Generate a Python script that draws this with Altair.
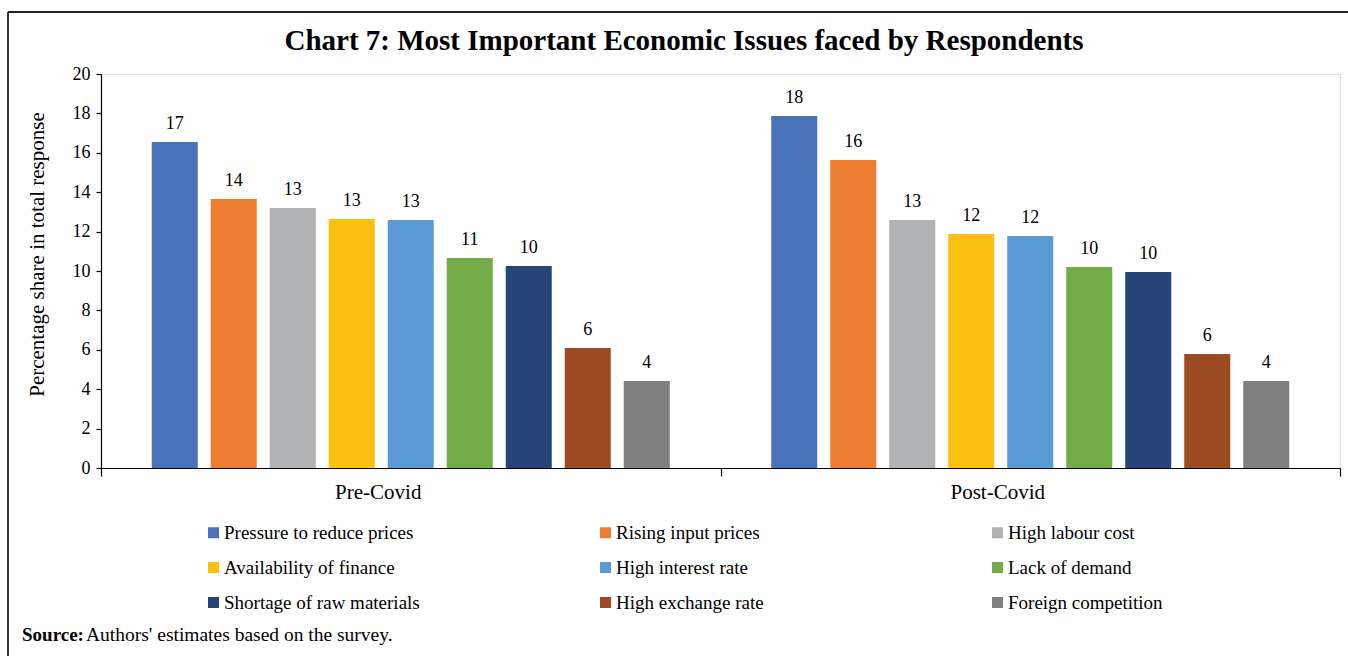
import altair as alt
import pandas as pd

groups = ["Pre-Covid", "Post-Covid"]
issues = [
    "Pressure to reduce prices",
    "Rising input prices",
    "High labour cost",
    "Availability of finance",
    "High interest rate",
    "Lack of demand",
    "Shortage of raw materials",
    "High exchange rate",
    "Foreign competition",
]
pre_covid = [16.55, 13.65, 13.2, 12.64, 12.59, 10.66, 10.25, 6.09, 4.42]
post_covid = [17.87, 15.63, 12.59, 11.88, 11.78, 10.2, 9.95, 5.79, 4.42]
colors = ["#4A72B8", "#ED7D31", "#B1B2B4", "#FCC010", "#5B9BD5",
          "#72AD47", "#264478", "#9C4A22", "#7F7F7F"]
y_ticks = list(range(0, 21, 2))

title_text = "Chart 7: Most Important Economic Issues faced by Respondents"
source_bold = "Source:"
source_text = "Authors' estimates based on the survey."

rows = []
for g, vals in zip(groups, [pre_covid, post_covid]):
    for i, v in zip(issues, vals):
        rows.append({"group": g, "issue": i, "value": v})
df = pd.DataFrame(rows)

# legend fills column by column: reorder so that rows read like the reference
ncol = 3
nrow = 3
legend_order = [issues[r * ncol + c] for c in range(ncol) for r in range(nrow)]
legend_colors = [colors[issues.index(i)] for i in legend_order]

FONT = "Liberation Serif"

x_enc = alt.X(
    "group:N", sort=groups,
    scale=alt.Scale(paddingInner=0, paddingOuter=0),
    axis=alt.Axis(title=None, labelAngle=0, labelFont=FONT, labelFontSize=21,
                  labelColor="black", labelPadding=5, labelOffset=-33,
                  tickBand="extent", tickSize=8, tickColor="black",
                  domainColor="black", tickWidth=1.2, domainWidth=1.2),
)
xoff_enc = alt.XOffset("issue:N", sort=issues,
                       scale=alt.Scale(paddingInner=0.22, paddingOuter=0.86))
y_enc = alt.Y(
    "value:Q",
    scale=alt.Scale(domain=[0, 20], nice=False),
    axis=alt.Axis(title="Percentage share in total response", values=y_ticks,
                  grid=False, labelFont=FONT, labelFontSize=18, labelColor="black",
                  labelPadding=6, tickSize=5, tickColor="black", domainColor="black",
                  tickWidth=1.2, domainWidth=1.2,
                  titleFont=FONT, titleFontSize=21, titleFontWeight="normal",
                  titleColor="black", titlePadding=25, titleY=180),
)

base = alt.Chart(df).encode(x=x_enc, xOffset=xoff_enc, y=y_enc)

bars = base.mark_bar().encode(
    color=alt.Color(
        "issue:N",
        scale=alt.Scale(domain=legend_order, range=legend_colors),
        legend=alt.Legend(
            title=None, orient="none", legendX=103, legendY=449, columns=3,
            gridAlign="all", columnPadding=176, rowPadding=15,
            symbolType="square", symbolSize=121, symbolStrokeWidth=0,
            labelFont=FONT, labelFontSize=19, labelColor="black",
            labelLimit=400, labelOffset=1,
        ),
    )
)

labels = base.mark_text(font=FONT, fontSize=18, color="black",
                        baseline="alphabetic", dy=-13).encode(
    text=alt.Text("value:Q", format=".0f")
)

one = pd.DataFrame({"t": [title_text]})
title = alt.Chart(one).mark_text(
    font=FONT, fontSize=29, fontWeight="bold", color="black",
    align="center", baseline="alphabetic"
).encode(text="t:N", x=alt.value(583), y=alt.value(-24))

src = pd.DataFrame({"a": [source_bold], "b": [source_text]})
src_bold = alt.Chart(src).mark_text(
    font=FONT, fontSize=19, fontWeight="bold", color="black",
    align="left", baseline="alphabetic"
).encode(text="a:N", x=alt.value(-79), y=alt.value(567))
src_reg = alt.Chart(src).mark_text(
    font=FONT, fontSize=19.5, color="black",
    align="left", baseline="alphabetic"
).encode(text="b:N", x=alt.value(-15), y=alt.value(567))

# frame: left and top edges only (the right and bottom edges lie outside the picture)
frame_left = alt.Chart(one).mark_rule(color="#222222", strokeWidth=1.8).encode(
    x=alt.value(-93), y=alt.value(-62), y2=alt.value(590))
frame_top = alt.Chart(one).mark_rule(color="#222222", strokeWidth=1.8).encode(
    x=alt.value(-93), x2=alt.value(1247), y=alt.value(-62))

chart = alt.layer(bars, labels, title, src_bold, src_reg, frame_left, frame_top).properties(
    width=1239, height=394,
    autosize=alt.AutoSizeParams(type="none"),
    padding={"left": 101, "top": 74, "right": 8, "bottom": 188},
).configure_view(strokeWidth=0, stroke="transparent").configure(background="white")

chart.save("out.html", embed_options={"renderer": "svg", "actions": False})
